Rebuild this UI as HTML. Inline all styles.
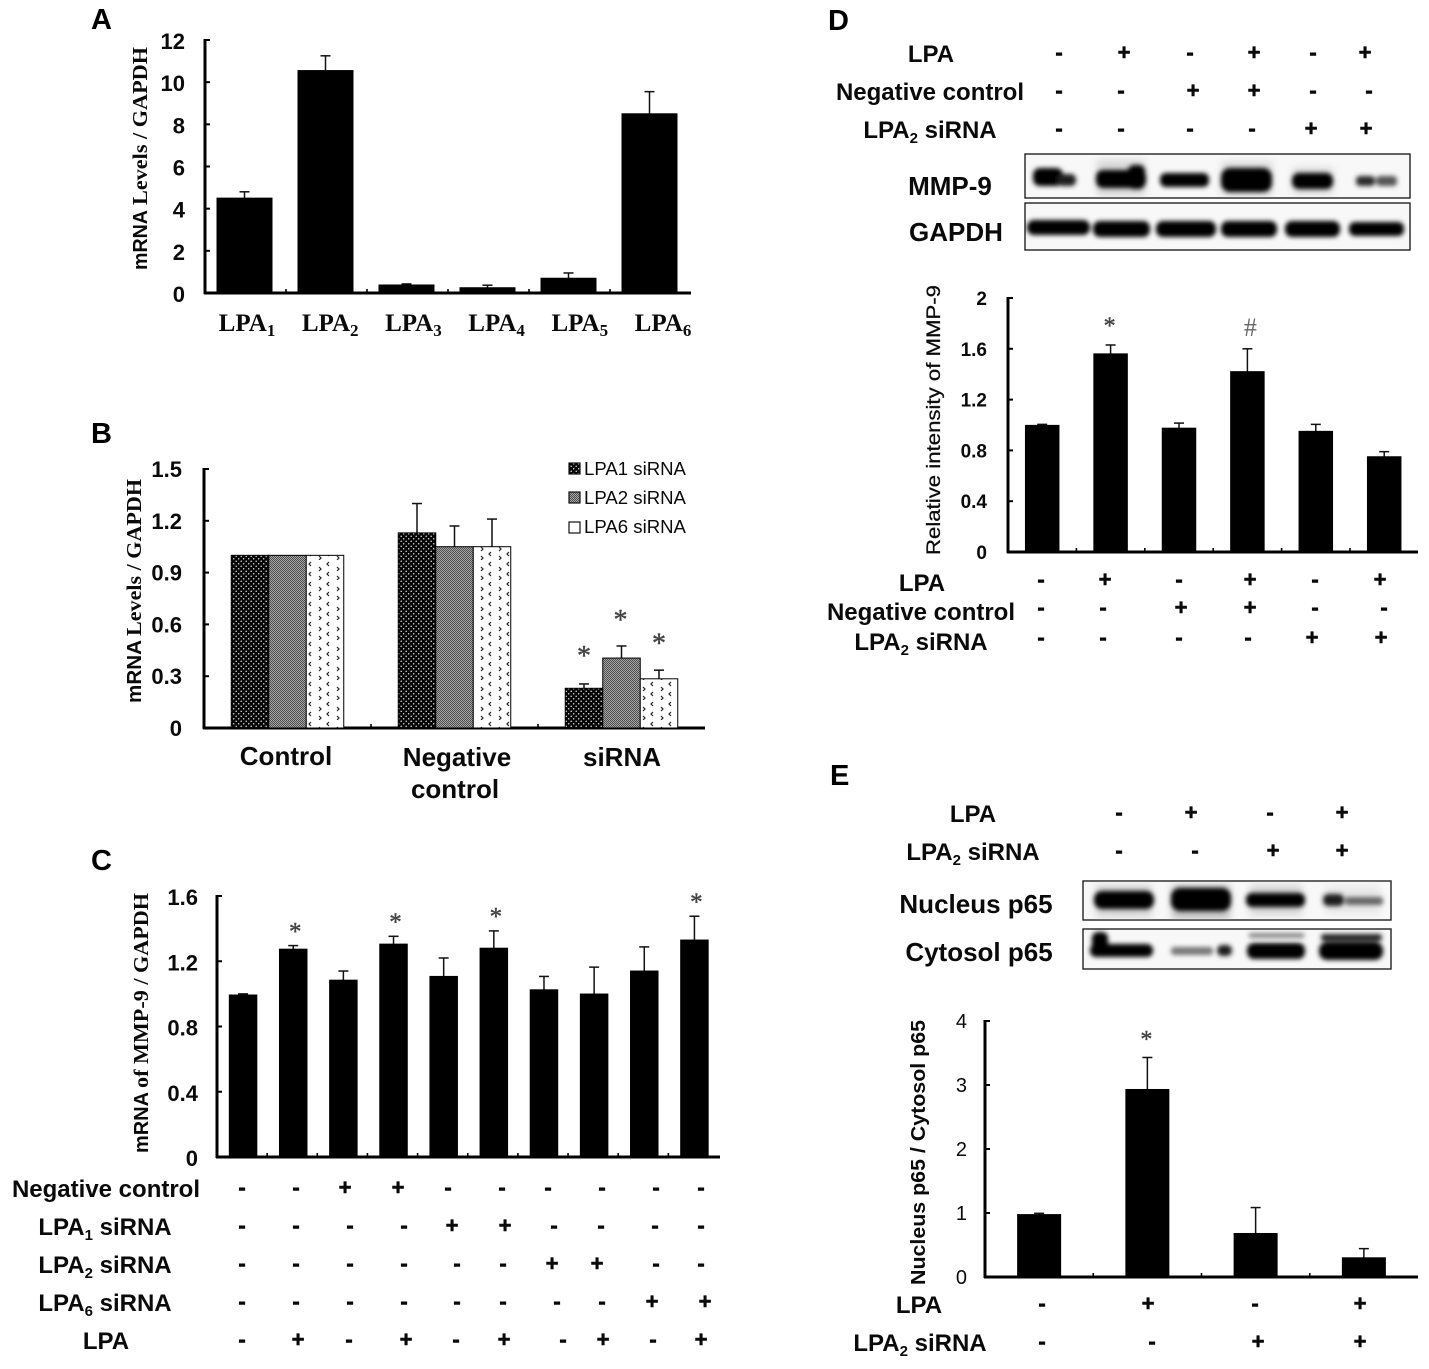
<!DOCTYPE html>
<html lang="en">
<head>
<meta charset="utf-8">
<title>LPA receptor and MMP-9 expression figure</title>
<style>
html,body{margin:0;padding:0;background:#fff;}
svg{display:block;filter:blur(0.35px);}
text{font-family:"Liberation Sans",sans-serif;fill:#0a0a0a;}
.sans{font-family:"Liberation Sans",sans-serif;font-weight:bold;}
.serif{font-family:"Liberation Serif",serif;font-weight:bold;}
.panel{font-size:29px;font-weight:bold;fill:#000;}
.row{font-size:24px;font-weight:bold;text-anchor:middle;}
.blot-label{font-size:26px;font-weight:bold;text-anchor:middle;}
.sub{font-size:15px;}
.box{fill:#f8f8f8;stroke:#222;stroke-width:1.4;}
</style>
</head>
<body>
<svg id="figure" width="1429" height="1369" viewBox="0 0 1429 1369" xmlns="http://www.w3.org/2000/svg">
<defs>
<filter id="soft" x="-30%" y="-100%" width="160%" height="300%"><feGaussianBlur stdDeviation="2.4"/></filter>
<filter id="softer" x="-30%" y="-80%" width="160%" height="260%"><feGaussianBlur stdDeviation="4"/></filter>
<pattern id="pat-lpa1" width="5" height="5" patternUnits="userSpaceOnUse">
<rect width="5" height="5" fill="#050505"/>
<circle cx="1.2" cy="1.2" r="0.75" fill="#ddd"/>
<circle cx="3.7" cy="3.7" r="0.75" fill="#ddd"/>
</pattern>
<pattern id="pat-lpa2" width="2" height="2" patternUnits="userSpaceOnUse">
<rect width="2" height="2" fill="#a8a8a8"/>
<rect width="1" height="1" fill="#4c4c4c"/>
<rect x="1" y="1" width="1" height="1" fill="#4c4c4c"/>
</pattern>
<pattern id="pat-lpa6" width="18" height="20" patternUnits="userSpaceOnUse">
<rect width="18" height="20" fill="#fff"/>
<path d="M5 2 L3 4 L5 6 M13 7 L15 9 L13 11 M5 12 L3 14 L5 16 M13 16 L15 18 L13 20" fill="none" stroke="#222" stroke-width="1.2"/>
</pattern>
<clipPath id="clip-mmp"><rect x="1025" y="154" width="385" height="44"/></clipPath>
<clipPath id="clip-gapdh"><rect x="1025" y="203" width="385" height="47"/></clipPath>
<clipPath id="clip-nuc"><rect x="1083" y="881" width="308" height="39"/></clipPath>
<clipPath id="clip-cyt"><rect x="1083" y="929" width="308" height="40"/></clipPath>
</defs>

<text class="panel" x="91" y="29">A</text>
<text class="panel" x="91" y="443">B</text>
<text class="panel" x="91" y="870">C</text>
<text class="panel" x="828" y="30">D</text>
<text class="panel" x="830" y="785">E</text>

<!-- y axis titles -->
<g>
<text class="sans" font-size="20" textLength="60" lengthAdjust="spacingAndGlyphs" transform="translate(147,270) rotate(-90)">mRNA</text>
<text class="serif" font-size="21" textLength="158" lengthAdjust="spacingAndGlyphs" transform="translate(147,205) rotate(-90)">Levels / GAPDH</text>
</g>
<g>
<text class="sans" font-size="20" textLength="63" lengthAdjust="spacingAndGlyphs" transform="translate(141,703) rotate(-90)">mRNA</text>
<text class="serif" font-size="21" textLength="157" lengthAdjust="spacingAndGlyphs" transform="translate(141,636) rotate(-90)">Levels / GAPDH</text>
</g>
<g>
<text class="sans" font-size="20" textLength="61" lengthAdjust="spacingAndGlyphs" transform="translate(148,1153) rotate(-90)">mRNA</text>
<text class="serif" font-size="21" textLength="195" lengthAdjust="spacingAndGlyphs" transform="translate(148,1088) rotate(-90)">of MMP-9 / GAPDH</text>
</g>
<text font-size="19" fill="#222" stroke="#222" stroke-width="0.3" textLength="270" lengthAdjust="spacingAndGlyphs" transform="translate(940,555) rotate(-90)">Relative intensity of MMP-9</text>
<text class="sans" font-size="20" textLength="265" lengthAdjust="spacingAndGlyphs" transform="translate(925,1285) rotate(-90)">Nucleus p65 / Cytosol p65</text>

<!-- B category labels -->
<text class="sans" font-size="26" text-anchor="middle" x="286" y="765">Control</text>
<text class="sans" font-size="26" text-anchor="middle" x="457" y="766">Negative</text>
<text class="sans" font-size="26" text-anchor="middle" x="455" y="798">control</text>
<text class="sans" font-size="26" text-anchor="middle" x="622" y="766">siRNA</text>

<!-- row labels: C -->
<text class="row" x="106" y="1197">Negative control</text>
<text class="row" x="105" y="1235">LPA<tspan class="sub" dy="5">1</tspan><tspan dy="-5"> siRNA</tspan></text>
<text class="row" x="105" y="1273">LPA<tspan class="sub" dy="5">2</tspan><tspan dy="-5"> siRNA</tspan></text>
<text class="row" x="105" y="1311">LPA<tspan class="sub" dy="5">6</tspan><tspan dy="-5"> siRNA</tspan></text>
<text class="row" x="106" y="1349">LPA</text>

<!-- row labels: D top -->
<text class="row" x="931" y="62">LPA</text>
<text class="row" x="930" y="100">Negative control</text>
<text class="row" x="930" y="138">LPA<tspan class="sub" dy="5">2</tspan><tspan dy="-5"> siRNA</tspan></text>

<!-- row labels: D bottom -->
<text class="row" x="922" y="591">LPA</text>
<text class="row" x="921" y="620">Negative control</text>
<text class="row" x="921" y="650">LPA<tspan class="sub" dy="5">2</tspan><tspan dy="-5"> siRNA</tspan></text>

<!-- row labels: E -->
<text class="row" x="973" y="822">LPA</text>
<text class="row" x="973" y="860">LPA<tspan class="sub" dy="5">2</tspan><tspan dy="-5"> siRNA</tspan></text>
<text class="row" x="919" y="1313">LPA</text>
<text class="row" x="920" y="1351">LPA<tspan class="sub" dy="5">2</tspan><tspan dy="-5"> siRNA</tspan></text>

<!-- D blots -->
<text class="blot-label" x="950" y="195">MMP-9</text>
<text class="blot-label" x="956" y="241">GAPDH</text>
<g>
<rect class="box" x="1025" y="154" width="385" height="44"/>
<g clip-path="url(#clip-mmp)">
<g filter="url(#softer)" fill="#999" opacity="0.35">
<rect x="1097" y="160" width="48" height="36"/>
<rect x="1222" y="162" width="50" height="34"/>
<rect x="1293" y="168" width="40" height="26"/>
</g>
<g filter="url(#soft)" fill="#000">
<rect x="1033" y="168" width="30" height="18" rx="7"/>
<rect x="1057" y="174" width="19" height="12" rx="5" fill="#1a1a1a"/>
<rect x="1096" y="170" width="50" height="18" rx="7"/>
<rect x="1128" y="165" width="17" height="24" rx="6"/>
<rect x="1160" y="173" width="49" height="14" rx="6"/>
<rect x="1221" y="168" width="51" height="24" rx="9"/>
<rect x="1292" y="173" width="41" height="16" rx="7"/>
<rect x="1356" y="176" width="19" height="10" rx="4" fill="#2c2c2c"/>
<rect x="1376" y="176" width="21" height="10" rx="4" fill="#555"/>
</g>
</g>
</g>
<g>
<rect class="box" x="1025" y="203" width="385" height="47"/>
<g clip-path="url(#clip-gapdh)">
<g filter="url(#soft)" fill="#000">
<rect x="1027" y="220" width="63" height="15" rx="7"/>
<rect x="1093" y="221" width="57" height="16" rx="7"/>
<rect x="1156" y="221" width="60" height="16" rx="7"/>
<rect x="1221" y="221" width="56" height="16" rx="7"/>
<rect x="1285" y="221" width="55" height="16" rx="7"/>
<rect x="1349" y="222" width="55" height="14" rx="6"/>
</g>
</g>
</g>

<!-- E blots -->
<text class="blot-label" x="976" y="913">Nucleus p65</text>
<text class="blot-label" x="979" y="961">Cytosol p65</text>
<g>
<rect class="box" x="1083" y="881" width="308" height="39"/>
<g clip-path="url(#clip-nuc)">
<g filter="url(#softer)" fill="#bbb" opacity="0.6">
<rect x="1096" y="885" width="56" height="32"/>
<rect x="1172" y="885" width="58" height="34" fill="#999"/>
<rect x="1250" y="885" width="52" height="30"/>
<rect x="1326" y="886" width="54" height="28" fill="#ddd"/>
</g>
<g filter="url(#soft)" fill="#000">
<rect x="1094" y="891" width="60" height="18" rx="8"/>
<rect x="1171" y="888" width="60" height="23" rx="9"/>
<rect x="1246" y="893" width="59" height="14" rx="6"/>
<rect x="1323" y="894" width="21" height="12" rx="5" fill="#1c1c1c"/>
<rect x="1345" y="897" width="38" height="8" rx="3" fill="#666"/>
</g>
</g>
</g>
<g>
<rect class="box" x="1083" y="929" width="308" height="40"/>
<g clip-path="url(#clip-cyt)">
<g filter="url(#soft)" fill="#000">
<rect x="1090" y="944" width="63" height="13" rx="6"/>
<rect x="1092" y="932" width="16" height="22" rx="6"/>
<rect x="1171" y="947" width="42" height="8" rx="3" fill="#777"/>
<rect x="1217" y="945" width="15" height="11" rx="5" fill="#1c1c1c"/>
<rect x="1247" y="943" width="58" height="16" rx="7"/>
<rect x="1249" y="933" width="55" height="5" fill="#888"/>
<rect x="1319" y="942" width="64" height="18" rx="8"/>
<rect x="1321" y="934" width="61" height="7" rx="3" fill="#222"/>
</g>
</g>
</g>

<!-- B legend -->
<g>
<g>
<rect x="569" y="463" width="11" height="11" fill="url(#pat-lpa1)" stroke="#111" stroke-width="1.2"/>
<text x="584" y="475" font-size="18.6" fill="#222">LPA1 siRNA</text>
</g>
<g>
<rect x="569" y="492" width="11" height="11" fill="url(#pat-lpa2)" stroke="#111" stroke-width="1.2"/>
<text x="584" y="504" font-size="18.6" fill="#222">LPA2 siRNA</text>
</g>
<g>
<rect x="569" y="522" width="11" height="11" fill="#fff" stroke="#111" stroke-width="1.2"/>
<text x="584" y="533" font-size="18.6" fill="#222">LPA6 siRNA</text>
</g>
</g>
</svg>

<script>
// ---- Panel A data ----
const aCategories = ['1', '2', '3', '4', '5', '6'];
const aValues = [4.5, 10.55, 0.38, 0.25, 0.7, 8.5];
const aErrors = [0.3, 0.7, 0.05, 0.12, 0.25, 1.05];
const aTicks = [0, 2, 4, 6, 8, 10, 12];

// ---- Panel B data ----
const bGroups = ['Control', 'Negative control', 'siRNA'];
const bLpa1Values = [1.0, 1.13, 0.23];
const bLpa1Errors = [0, 0.17, 0.025];
const bLpa2Values = [1.0, 1.05, 0.405];
const bLpa2Errors = [0, 0.12, 0.07];
const bLpa6Values = [1.0, 1.05, 0.285];
const bLpa6Errors = [0, 0.16, 0.05];
const bTicks = ['0', '0.3', '0.6', '0.9', '1.2', '1.5'];

// ---- Panel C data ----
const cValues = [0.993, 1.274, 1.084, 1.305, 1.107, 1.28, 1.025, 0.999, 1.14, 1.33];
const cErrors = [0.007, 0.022, 0.056, 0.048, 0.113, 0.106, 0.082, 0.165, 0.148, 0.146];
const cTicks = ['0', '0.4', '0.8', '1.2', '1.6'];
const cNegativeControl = '--++------';
const cLpa1Sirna = '----++----';
const cLpa2Sirna = '------++--';
const cLpa6Sirna = '--------++';
const cLpa = '-+-+-+-+-+';

// ---- Panel D data ----
const dValues = [0.997, 1.56, 0.975, 1.42, 0.95, 0.75];
const dErrors = [0.008, 0.07, 0.04, 0.18, 0.055, 0.04];
const dTicks = ['0', '0.4', '0.8', '1.2', '1.6', '2'];
const dLpa = '-+-+-+';
const dNegativeControl = '--++--';
const dLpa2Sirna = '----++';

// ---- Panel E data ----
const eValues = [0.975, 2.93, 0.68, 0.3];
const eErrors = [0.02, 0.5, 0.405, 0.143];
const eTicks = ['0', '1', '2', '3', '4'];
const eLpa = '-+-+';
const eLpa2Sirna = '--++';

const SVG_NS = 'http://www.w3.org/2000/svg';
const fig = document.getElementById('figure');

function make(tag, attrs, name) {
  const el = document.createElementNS(SVG_NS, tag);
  Object.keys(attrs).forEach(function (k) { el.setAttribute(k, attrs[k]); });
  
  
  return el;
}

function linearY(y0, yTop, max) {
  return function (v) { return y0 - (v / max) * (y0 - yTop); };
}
function bandX(left, step) {
  return function (i) { return left + (i + 0.5) * step; };
}

function drawAxes(prefix, g, opt) {
  const y = opt.y;
  g.appendChild(make('line', { x1: opt.left, x2: opt.left, y1: y(opt.max) - 1, y2: y(0) + 1, stroke: '#000', 'stroke-width': 3 }, prefix + '-y-axis'));
  g.appendChild(make('line', { x1: opt.left - 1, x2: opt.right, y1: y(0), y2: y(0), stroke: '#000', 'stroke-width': 3 }, prefix + '-x-axis'));
  opt.ticks.forEach(function (t) {
    const v = Number(t);
    g.appendChild(make('line', { x1: opt.left, x2: opt.left + 5, y1: y(v), y2: y(v), stroke: '#000', 'stroke-width': 2 }, prefix + '-y-tick-' + t));
    const label = make('text', { x: opt.labelRight, y: y(v) + opt.labelDy, 'text-anchor': 'end', 'font-size': opt.labelSize, 'font-weight': opt.labelWeight }, prefix + '-y-tick-label-' + t);
    label.textContent = t;
    g.appendChild(label);
  });
  for (let i = 1; i <= opt.count; i++) {
    const tx = opt.left + i * opt.step;
    g.appendChild(make('line', { x1: tx, x2: tx, y1: y(0) - 4, y2: y(0), stroke: '#000', 'stroke-width': 1.6 }, prefix + '-x-tick-' + i));
  }
}

function drawBar(g, name, cx, width, value, err, y, fill) {
  const y0 = y(0);
  const top = y(value);
  const errTop = y(value + err);
  if (err > 0) {
    g.appendChild(make('line', { x1: cx, x2: cx, y1: errTop, y2: top, stroke: '#111', 'stroke-width': 1.5 }, name + '-error-bar'));
    g.appendChild(make('line', { x1: cx - 5, x2: cx + 5, y1: errTop, y2: errTop, stroke: '#111', 'stroke-width': 1.5 }, name + '-error-cap'));
  }
  g.appendChild(make('rect', { x: cx - width / 2, y: top, width: width, height: y0 - top, fill: fill, stroke: '#000', 'stroke-width': 1 }, name));
}

function drawMarker(name, glyph, x, yc, size) {
  const m = make('text', { x: x, y: yc + size * 0.47, 'text-anchor': 'middle', 'font-size': size, stroke: '#444', 'stroke-width': 0.4, style: 'font-family:"Liberation Serif",serif;fill:#444' }, name);
  m.textContent = glyph;
  fig.appendChild(m);
}

function drawSigns(prefix, pattern, xs, yc) {
  const g = make('g', {}, prefix + '-row');
  pattern.split('').forEach(function (s, i) {
    const t = make('text', { x: xs[i], y: yc + 7, 'text-anchor': 'middle', 'font-size': 22, 'font-weight': 'bold', stroke: '#000', 'stroke-width': 0.6 }, prefix + '-cell-' + (i + 1));
    t.textContent = s;
    g.appendChild(t);
  });
  fig.appendChild(g);
}

// ---- Panel A ----
(function () {
  const g = make('g', {}, 'chart-a');
  const y = linearY(293, 40, 12);
  const x = bandX(204, 81);
  drawAxes('a', g, { y: y, left: 205, right: 691, max: 12, ticks: aTicks.map(String), labelRight: 185, labelDy: 9, labelSize: 22, labelWeight: 'bold', count: 5, step: 81 });
  aValues.forEach(function (v, i) {
    drawBar(g, 'a-bar-lpa' + aCategories[i], x(i), 55, v, aErrors[i], y, '#000');
    const t = make('text', { x: 247 + i * 83.2, y: 331, 'text-anchor': 'middle', 'font-size': 25, style: 'font-family:"Liberation Serif",serif;font-weight:bold' }, 'a-x-label-lpa' + aCategories[i]);
    t.textContent = 'LPA';
    const sub = make('tspan', { dy: 5, 'font-size': 17 }, 'a-x-label-subscript-' + aCategories[i]);
    sub.textContent = aCategories[i];
    t.appendChild(sub);
    g.appendChild(t);
  });
  fig.appendChild(g);
})();

// ---- Panel B ----
(function () {
  const g = make('g', {}, 'chart-b');
  const y = linearY(728, 469, 1.5);
  const x = bandX(204, 167);
  const w = 37.5;
  drawAxes('b', g, { y: y, left: 204, right: 705, max: 1.5, ticks: bTicks, labelRight: 182, labelDy: 8, labelSize: 22, labelWeight: 'bold', count: 2, step: 167 });
  bGroups.forEach(function (group, i) {
    const slug = group.toLowerCase().replace(/ /g, '-');
    drawBar(g, 'b-bar-' + slug + '-lpa1', x(i) - w, w, bLpa1Values[i], bLpa1Errors[i], y, 'url(#pat-lpa1)');
    drawBar(g, 'b-bar-' + slug + '-lpa2', x(i), w, bLpa2Values[i], bLpa2Errors[i], y, 'url(#pat-lpa2)');
    drawBar(g, 'b-bar-' + slug + '-lpa6', x(i) + w, w, bLpa6Values[i], bLpa6Errors[i], y, 'url(#pat-lpa6)');
  });
  fig.appendChild(g);
  drawMarker('b-significance-lpa1', '*', x(2) - w, y(bLpa1Values[2] + bLpa1Errors[2]) - 32, 28);
  drawMarker('b-significance-lpa2', '*', x(2) - 1, y(bLpa2Values[2] + bLpa2Errors[2]) - 30, 28);
  drawMarker('b-significance-lpa6', '*', x(2) + w, y(bLpa6Values[2] + bLpa6Errors[2]) - 31, 28);
})();

// ---- Panel C ----
(function () {
  const g = make('g', {}, 'chart-c');
  const y = linearY(1157, 896, 1.6);
  const x = bandX(218, 50.15);
  drawAxes('c', g, { y: y, left: 217, right: 720, max: 1.6, ticks: cTicks, labelRight: 198, labelDy: 9, labelSize: 22, labelWeight: 'bold', count: 9, step: 50.15 });
  cValues.forEach(function (v, i) {
    drawBar(g, 'c-bar-' + (i + 1), x(i), 27.5, v, cErrors[i], y, '#000');
  });
  fig.appendChild(g);
  [1, 3, 5, 9].forEach(function (i) {
    drawMarker('c-significance-' + (i + 1), '*', x(i) + 2, y(cValues[i] + cErrors[i]) - 18, 25);
  });
  drawSigns('c-negative-control', cNegativeControl, [242, 296, 345, 398, 448, 502, 548, 602, 656, 701], 1188);
  drawSigns('c-lpa1-sirna', cLpa1Sirna, [242, 296, 350, 404, 452, 505, 554, 601, 655, 701], 1226);
  drawSigns('c-lpa2-sirna', cLpa2Sirna, [242, 296, 350, 404, 457, 503, 552, 597, 656, 701], 1264);
  drawSigns('c-lpa6-sirna', cLpa6Sirna, [242, 296, 350, 404, 457, 503, 557, 602, 652, 705], 1302);
  drawSigns('c-lpa', cLpa, [242, 298, 349, 406, 456, 504, 563, 603, 653, 701], 1340);
})();

// ---- Panel D ----
(function () {
  const g = make('g', {}, 'chart-d');
  const y = linearY(552, 298, 2);
  const x = bandX(1008, 68.4);
  drawAxes('d', g, { y: y, left: 1008, right: 1418, max: 2, ticks: dTicks, labelRight: 987, labelDy: 7, labelSize: 19, labelWeight: 'bold', count: 5, step: 68.4 });
  dValues.forEach(function (v, i) {
    drawBar(g, 'd-bar-' + (i + 1), x(i), 33.5, v, dErrors[i], y, '#000');
  });
  fig.appendChild(g);
  drawMarker('d-significance-lpa', '*', x(1) - 1, y(dValues[1] + dErrors[1]) - 23, 24);
  const hash = make('text', { x: x(3) + 3, y: y(dValues[3] + dErrors[3]) - 13, 'text-anchor': 'middle', 'font-size': 26, style: 'font-family:"Liberation Serif",serif;fill:#666' }, 'd-significance-hash');
  hash.textContent = '#';
  fig.appendChild(hash);
  drawSigns('d-top-lpa', dLpa, [1059, 1124, 1190, 1254, 1313, 1365], 53);
  drawSigns('d-top-negative-control', dNegativeControl, [1059, 1121, 1193, 1254, 1313, 1369], 91);
  drawSigns('d-top-lpa2-sirna', dLpa2Sirna, [1059, 1121, 1190, 1252, 1311, 1366], 129);
  drawSigns('d-bottom-lpa', dLpa, [1041, 1105, 1179, 1250, 1315, 1380], 580);
  drawSigns('d-bottom-negative-control', dNegativeControl, [1041, 1103, 1181, 1250, 1315, 1384], 608);
  drawSigns('d-bottom-lpa2-sirna', dLpa2Sirna, [1041, 1103, 1179, 1248, 1312, 1381], 638);
})();

// ---- Panel E ----
(function () {
  const g = make('g', {}, 'chart-e');
  const y = linearY(1277, 1021, 4);
  const x = bandX(985, 108.25);
  drawAxes('e', g, { y: y, left: 985, right: 1418, max: 4, ticks: eTicks, labelRight: 967, labelDy: 7, labelSize: 20, labelWeight: 'normal', count: 3, step: 108.25 });
  eValues.forEach(function (v, i) {
    drawBar(g, 'e-bar-' + (i + 1), x(i), 43, v, eErrors[i], y, '#000');
  });
  fig.appendChild(g);
  drawMarker('e-significance-lpa', '*', x(1) - 1, y(eValues[1] + eErrors[1]) - 22, 24);
  drawSigns('e-top-lpa', eLpa, [1119, 1191, 1270, 1342], 813);
  drawSigns('e-top-lpa2-sirna', eLpa2Sirna, [1119, 1195, 1273, 1342], 851);
  drawSigns('e-bottom-lpa', eLpa, [1042, 1148, 1255, 1360], 1304);
  drawSigns('e-bottom-lpa2-sirna', eLpa2Sirna, [1042, 1152, 1258, 1360], 1342);
})();
</script>
</body>
</html>
